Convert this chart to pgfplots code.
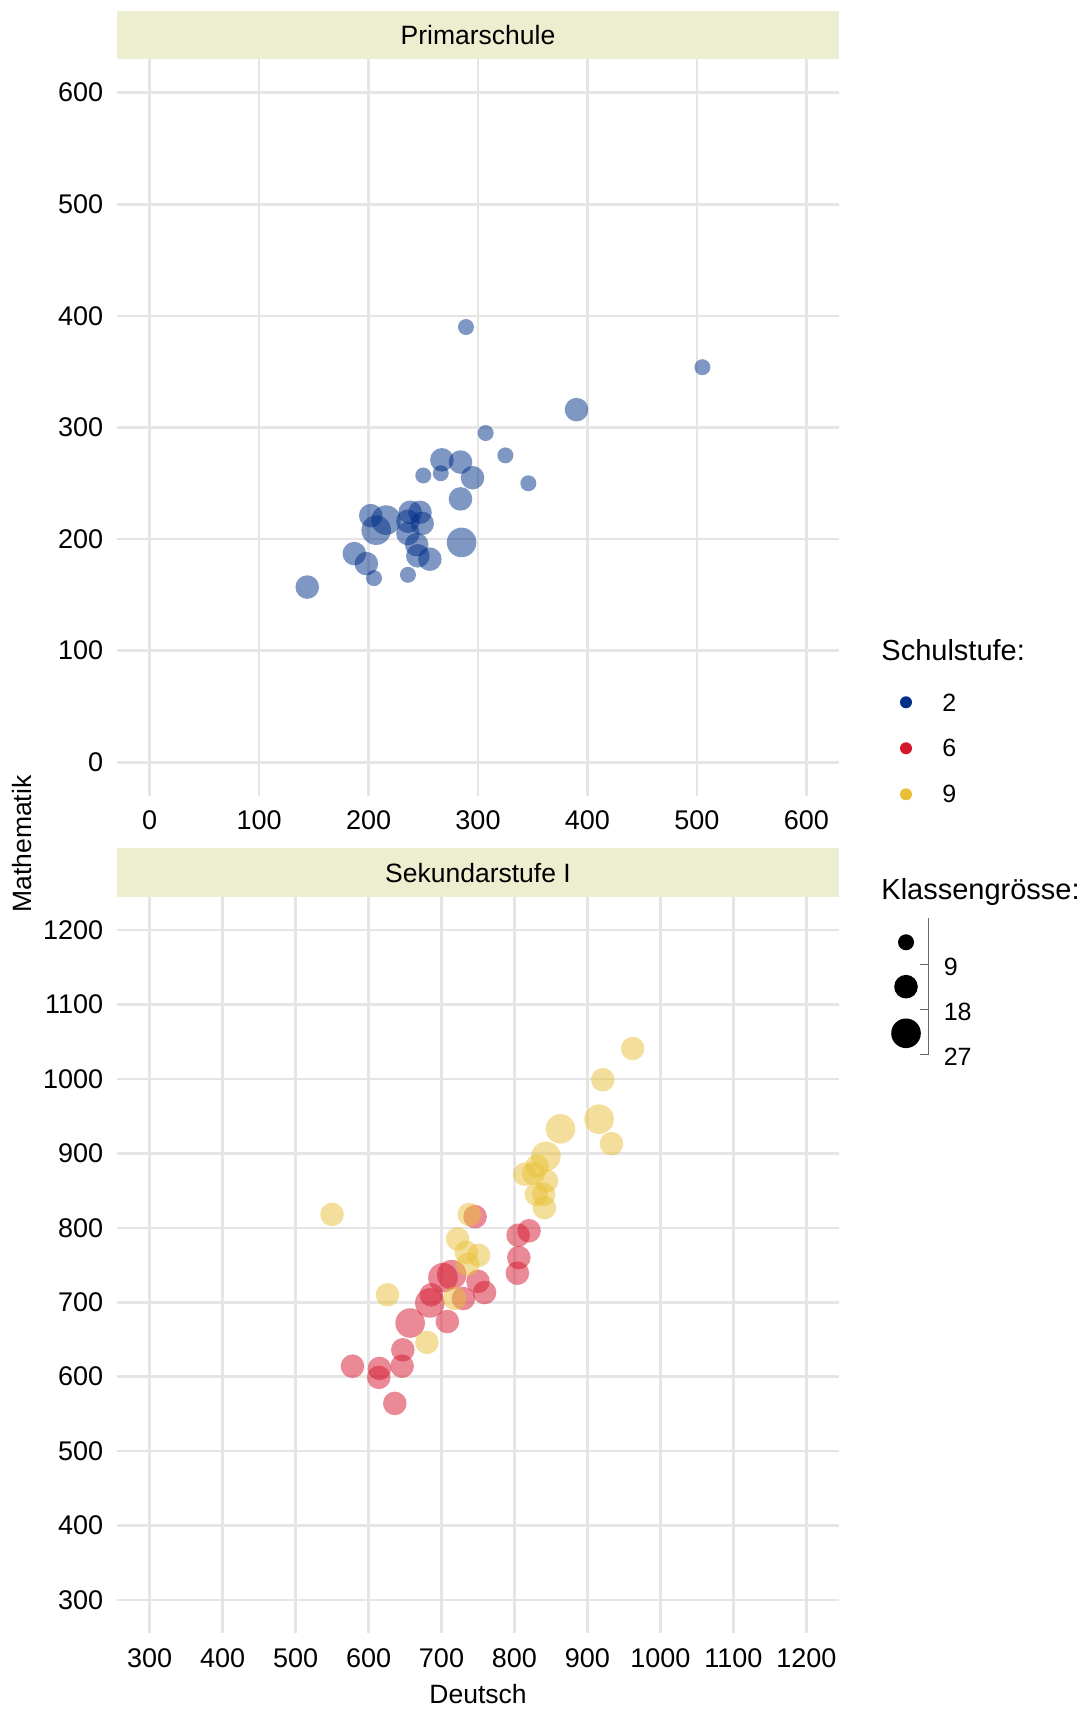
\documentclass[border=0pt]{standalone}
\usepackage{fontspec}
\setmainfont{Liberation Sans}
\usepackage{pgfplots}
\pgfplotsset{compat=1.18}
\usepackage{pgfplotstable}

\definecolor{stufeA}{RGB}{0,47,135}
\definecolor{stufeB}{RGB}{212,22,45}
\definecolor{stufeC}{RGB}{232,192,55}
\definecolor{stripbg}{RGB}{237,237,208}
\definecolor{gridgray}{RGB}{229,229,229}

% Primarschule (Schulstufe 2): Deutsch, Mathematik, Klassengroesse
\pgfplotstableread{
x y k
289 390 7
307 295 7
325 275 7
346 250 7
267 271 14
284 269 14
250 257 7
266 259 7
295 255 14
284 236 14
202 221 14
216 217 22
207 208 22
238 224 14
247 224 14
236 216 14
249 214 14
236 205 14
244 195 14
245 185 14
256 182 14
285 197 22
187 187 14
198 178 14
205 165 7
236 168 7
144 157 14
390 316 14
505 354 7
}\primA

% Sekundarstufe I, Schulstufe 6
\pgfplotstableread{
x y k
820 796 14
805 790 14
806 760 14
804 739 14
746 815 14
750 728 14
759 713 14
730 705 14
702 733 22
714 737 22
686 710 14
684 699 22
708 674 14
657 672 22
647 636 14
646 614 14
578 614 14
615 611 14
614 599 14
636 564 14
}\sekB

% Sekundarstufe I, Schulstufe 9
\pgfplotstableread{
x y k
962 1041 14
921 999 14
916 946 22
933 913 14
863 933 22
843 896 22
831 883 14
814 872 14
826 873 14
844 863 14
830 845 14
840 845 14
841 827 14
550 818 14
738 818 14
722 785 14
734 767 14
751 763 14
736 751 14
718 705 14
626 710 14
680 646 14
}\sekC

\pgfplotsset{
  facet/.style={
    width=361.2pt, height=368.3pt, scale only axis,
    anchor=south west,
    axis line style={draw=none},
    major tick length=0pt,
    grid=major,
    major grid style={gridgray, line width=1.3pt},
    tick label style={font=\fontsize{13.5}{15}\selectfont, inner sep=0pt, text=black},
    xticklabel style={anchor=north, yshift=-7.3pt},
    yticklabel style={anchor=east, xshift=-6.6pt},
    /pgf/number format/assume math mode=true,
    /pgf/number format/1000 sep={},
    clip=false,
  },
  bubble/.style={
    only marks, scatter, mark=*,
    scatter/use mapped color={draw=#1, fill=#1, draw opacity=0, fill opacity=0.5},
    visualization depends on={ifthenelse(\thisrow{k}<9,4,ifthenelse(\thisrow{k}<18,5.9,7.4)) \as \msz},
    scatter/@pre marker code/.append style={/tikz/mark size=\msz},
  },
}

\begin{document}
\begin{tikzpicture}
\path[use as bounding box] (0,0) rectangle (544.5pt,855.5pt);

\begin{axis}[facet, at={(58.4pt,457.6pt)},
  xmin=-30, xmax=630, ymin=-30, ymax=630,
  xtick={0,100,...,600}, ytick={0,100,...,600}]
  \addplot[bubble=stufeA] table[x=x, y=y] {\primA};
\end{axis}

\begin{axis}[facet, at={(58.4pt,38.85pt)},
  xmin=255, xmax=1245, ymin=255, ymax=1245,
  xtick={300,400,...,1200}, ytick={300,400,...,1200}]
  \addplot[bubble=stufeB] table[x=x, y=y] {\sekB};
  \addplot[bubble=stufeC] table[x=x, y=y] {\sekC};
\end{axis}

% facet strips
\fill[stripbg] (58.4pt,826pt) rectangle (419.6pt,850.2pt);
\fill[stripbg] (58.4pt,406.95pt) rectangle (419.6pt,431.5pt);
\node[font=\fontsize{13.25}{15}\selectfont] at (239pt,837.8pt) {Primarschule};
\node[font=\fontsize{13.25}{15}\selectfont] at (239pt,419pt) {Sekundarstufe I};

% axis titles
\node[font=\fontsize{13.25}{15}\selectfont] at (239pt,8.6pt) {Deutsch};
\node[font=\fontsize{13.25}{15}\selectfont, rotate=90] at (11pt,433.5pt) {Mathematik};

% legend: Schulstufe
\begin{scope}[every node/.style={inner sep=0pt, anchor=west}]
\node[font=\fontsize{14.5}{17}\selectfont] at (440.5pt,530.5pt) {Schulstufe:};
\fill[stufeA] (453pt,504.35pt) circle (3pt);
\fill[stufeB] (453pt,481.35pt) circle (3pt);
\fill[stufeC] (453pt,458.35pt) circle (3pt);
\node[font=\fontsize{12.5}{15}\selectfont] at (471pt,504.35pt) {2};
\node[font=\fontsize{12.5}{15}\selectfont] at (471pt,481.35pt) {6};
\node[font=\fontsize{12.5}{15}\selectfont] at (471pt,458.35pt) {9};

% legend: Klassengroesse
\node[font=\fontsize{14.5}{17}\selectfont] at (440.5pt,409.4pt) {Klassengrösse:};
\fill[black] (453pt,384.35pt) circle (4pt);
\fill[black] (453pt,362.15pt) circle (5.9pt);
\fill[black] (453pt,338.85pt) circle (7.4pt);
\draw[black!60, line width=0.5pt] (464.3pt,396.3pt) -- (464.3pt,328pt);
\draw[black!60, line width=0.5pt] (460pt,373.3pt) -- (464.3pt,373.3pt);
\draw[black!60, line width=0.5pt] (460pt,350.8pt) -- (464.3pt,350.8pt);
\draw[black!60, line width=0.5pt] (460pt,328pt) -- (464.3pt,328pt);
\node[font=\fontsize{12.5}{15}\selectfont] at (471.7pt,372.2pt) {9};
\node[font=\fontsize{12.5}{15}\selectfont] at (471.7pt,349.7pt) {18};
\node[font=\fontsize{12.5}{15}\selectfont] at (471.7pt,327.2pt) {27};
\end{scope}
\end{tikzpicture}
\end{document}
